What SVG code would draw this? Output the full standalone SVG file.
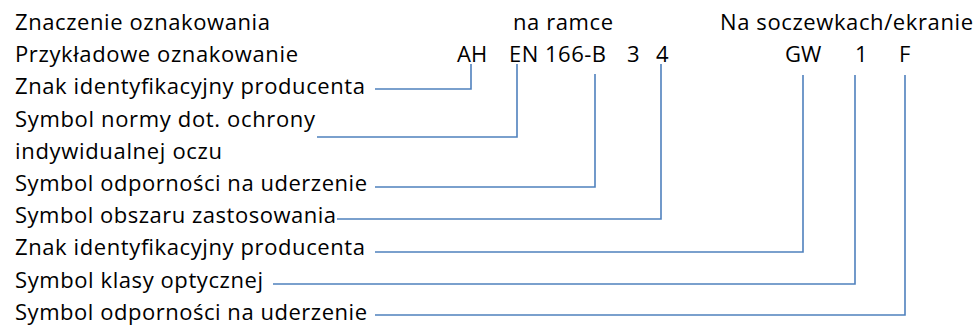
<svg xmlns="http://www.w3.org/2000/svg" width="978" height="326" viewBox="0 0 978 326">
<style>
text{font-family:"Open Sans","Noto Sans","DejaVu Sans",sans-serif;font-size:22px;fill:#000}
.c{fill:none;stroke:#4F81BD;stroke-width:1.6}
</style>
<rect width="978" height="326" fill="#fff"/>
<g id="header">
<text x="15" y="30" textLength="255" lengthAdjust="spacing">Znaczenie oznakowania</text>
<text x="513" y="30" textLength="100" lengthAdjust="spacing">na ramce</text>
<text x="720" y="30" textLength="253" lengthAdjust="spacing">Na soczewkach/ekranie</text>
</g>
<g id="example">
<text x="15" y="62" textLength="283" lengthAdjust="spacing">Przykładowe oznakowanie</text>
<text id="m-AH" x="457" y="62">AH</text>
<text id="m-EN" x="509" y="62" textLength="97" lengthAdjust="spacing">EN 166-B</text>
<text id="m-3" x="627" y="62">3</text>
<text id="m-4" x="656" y="62">4</text>
<text id="m-GW" x="785" y="62">GW</text>
<text id="m-1" x="855" y="62">1</text>
<text id="m-F" x="899" y="62">F</text>
</g>
<g id="n1"><text x="15" y="94" textLength="350" lengthAdjust="spacing">Znak identyfikacyjny producenta</text></g>
<g id="n2">
<text x="15" y="127" textLength="300" lengthAdjust="spacing">Symbol normy dot. ochrony</text>
<text x="15" y="159" textLength="207" lengthAdjust="spacing">indywidualnej oczu</text>
</g>
<g id="n3"><text x="15" y="191" textLength="352" lengthAdjust="spacing">Symbol odporności na uderzenie</text></g>
<g id="n4"><text x="15" y="223" textLength="321" lengthAdjust="spacing">Symbol obszaru zastosowania</text></g>
<g id="n5"><text x="15" y="255" textLength="350" lengthAdjust="spacing">Znak identyfikacyjny producenta</text></g>
<g id="n6"><text x="15" y="288" textLength="248" lengthAdjust="spacing">Symbol klasy optycznej</text></g>
<g id="n7"><text x="15" y="320" textLength="352" lengthAdjust="spacing">Symbol odporności na uderzenie</text></g>
<g id="connectors">
<polyline class="c" points="375,89 471,89 471,64"/>
<polyline class="c" points="317,137 517,137 517,64"/>
<polyline class="c" points="375,187 595,187 595,74"/>
<polyline class="c" points="337,219 661,219 661,64"/>
<polyline class="c" points="375,252 803,252 803,75"/>
<polyline class="c" points="273,284 855,284 855,75"/>
<polyline class="c" points="375,315 905,315 905,75"/>
</g>
</svg>
